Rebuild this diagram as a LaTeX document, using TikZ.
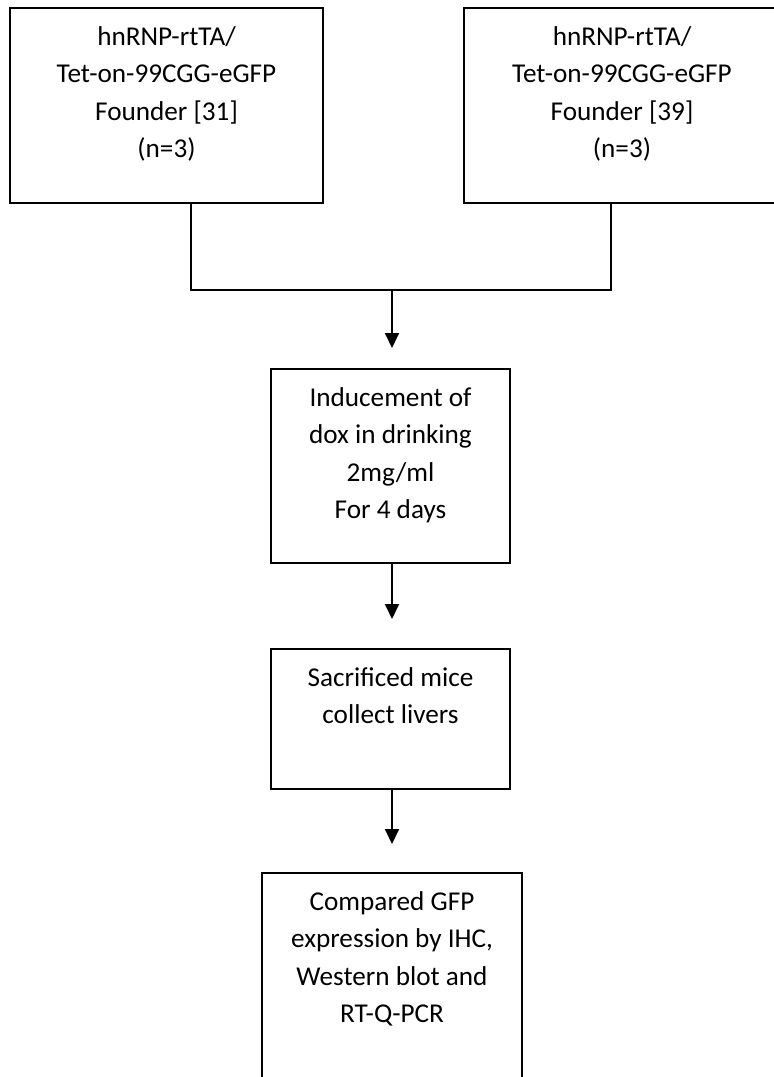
\documentclass[tikz,border=0pt]{standalone}
\usepackage{fontspec}
\setmainfont{Carlito}
\usetikzlibrary{arrows.meta,calc}
\newcommand\flowtext[3]{\begin{minipage}[t][#2][t]{#1}\centering\fontsize{27.2}{37.5}\selectfont\rule{0pt}{37pt}#3\end{minipage}}
\begin{document}
\begin{tikzpicture}[x=1pt,y=-1pt,
  box/.style={draw=black,line width=1.8pt,inner sep=0pt,outer sep=0pt,anchor=north west},
  conn/.style={draw=black,line width=1.8pt},
  arr/.style={conn,-{Triangle[length=15pt,width=14pt]}}]
\path[use as bounding box, clip] (0,0) rectangle (774,1077);
\fill[white] (0,0) rectangle (774,1077);
\node[box] (f1) at (10,8) {\flowtext{313pt}{195pt}{hnRNP-rtTA/\\Tet-on-99CGG-eGFP\\Founder [31]\\(n=3)}};
\node[box] (f2) at (464,8) {\flowtext{316pt}{195pt}{hnRNP-rtTA/\\Tet-on-99CGG-eGFP\\Founder [39]\\(n=3)}};
\node[box] (b2) at (271,369) {\flowtext{239pt}{194pt}{Inducement of\\dox in drinking\\2mg/ml\\For 4 days}};
\node[box] (b3) at (271,649) {\flowtext{239pt}{140pt}{Sacrificed mice\\collect livers}};
\node[box] (b4) at (262,873) {\flowtext{260pt}{267pt}{Compared GFP\\expression by IHC,\\Western blot and\\RT-Q-PCR}};
\coordinate (j) at (392,290);
\draw[conn] ([xshift=24.5pt]f1.south) |- (j) -| ([xshift=-11pt]f2.south);
\draw[arr] (j) -- ([xshift=1.5pt,yshift=21pt]b2.north);
\draw[arr] ([xshift=1.5pt]b2.south) -- ([xshift=1.5pt,yshift=30pt]b3.north);
\draw[arr] ([xshift=1.5pt]b3.south) -- ([yshift=29pt]b4.north);
\end{tikzpicture}
\end{document}
